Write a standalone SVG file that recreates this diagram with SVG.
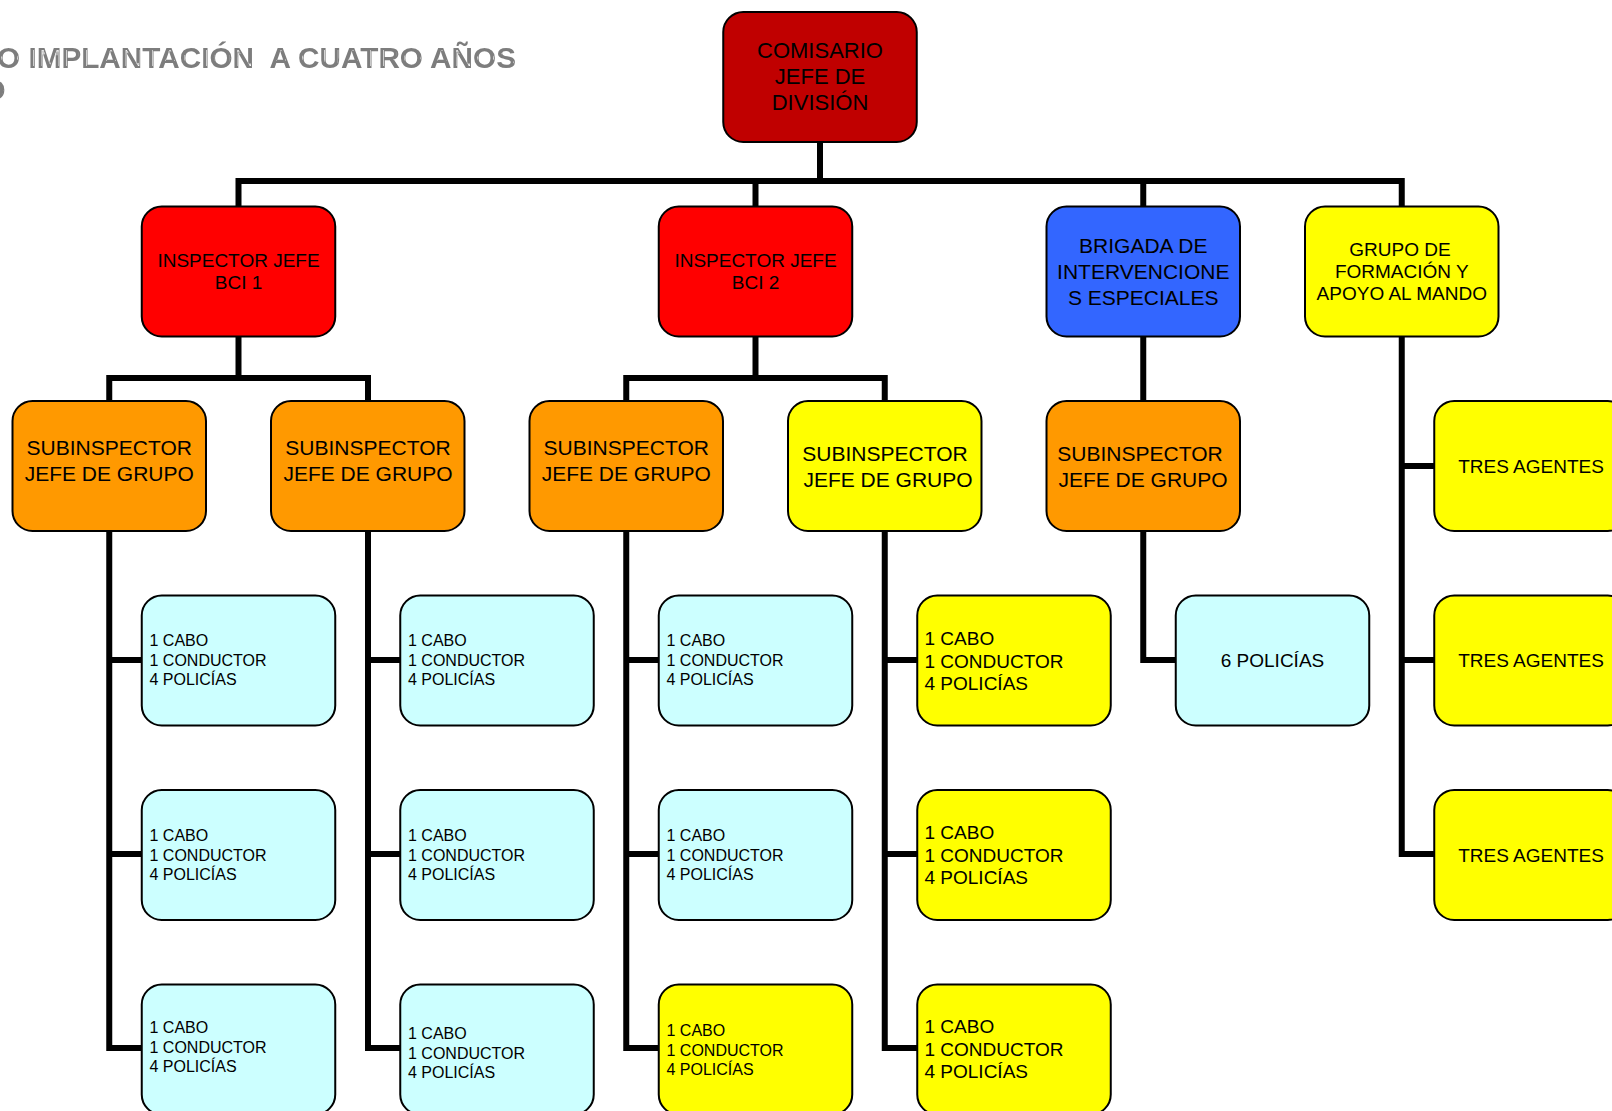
<svg xmlns="http://www.w3.org/2000/svg" width="1612" height="1111" viewBox="0 0 1612 1111">
<style>
.box{stroke:#000;stroke-width:2;}
.dred{fill:#C00000}.red{fill:#FF0000}.blue{fill:#3366FF}.yel{fill:#FFFF00}.org{fill:#FF9900}.cyan{fill:#CCFFFF}
text{font-family:"Liberation Sans",Arial,sans-serif;fill:#000;}
.c{text-anchor:middle}
.f22{font-size:22px}.f21{font-size:21px}.f19{font-size:19px}.f16{font-size:16px}
.title{font-size:29px;font-weight:bold;fill:#7d7d7d;filter:url(#emboss)}
.conn path{fill:none;stroke:#000;stroke-width:6;stroke-linejoin:miter}
</style>
<defs>
<rect id="b" width="193.5" height="130" rx="20" ry="20"/>
<filter id="emboss" x="-5%" y="-20%" width="110%" height="140%">
<feMorphology in="SourceAlpha" operator="erode" radius="1.6" result="er"/>
<feOffset in="er" dx="1" dy="-0.5" result="off"/>
<feFlood flood-color="#ffffff" result="w"/>
<feComposite in="w" in2="off" operator="in" result="hl"/>
<feMerge><feMergeNode in="SourceGraphic"/><feMergeNode in="hl"/></feMerge>
</filter>
</defs>
<rect width="1612" height="1111" fill="#fff"/>
<g id="title">
<text class="title" x="-3" y="68" xml:space="preserve" textLength="519" lengthAdjust="spacingAndGlyphs">O IMPLANTACIÓN  A CUATRO AÑOS</text>
<text class="title" x="-17" y="100">O</text>
</g>
<g id="connectors" class="conn">
<path d="M820 142 V181"/>
<path d="M238.5 206.5 V181 H1401.75 V206.5"/>
<path d="M755.5 181 V206.5"/>
<path d="M1143.25 181 V206.5"/>
<path d="M238.5 336.5 V378"/>
<path d="M109.25 401 V378 H368 V401"/>
<path d="M755.5 336.5 V378"/>
<path d="M626.25 401 V378 H884.75 V401"/>
<path d="M1143.25 336.5 V401"/>
<path d="M1401.75 336.5 V854 H1434.25"/>
<path d="M1401.75 466 H1434.25"/>
<path d="M1401.75 660 H1434.25"/>
<path d="M109.25 531 V1048 H141.75"/>
<path d="M109.25 660 H141.75"/>
<path d="M109.25 854 H141.75"/>
<path d="M368 531 V1048 H400.25"/>
<path d="M368 660 H400.25"/>
<path d="M368 854 H400.25"/>
<path d="M626.25 531 V1048 H658.75"/>
<path d="M626.25 660 H658.75"/>
<path d="M626.25 854 H658.75"/>
<path d="M884.75 531 V1048 H917.25"/>
<path d="M884.75 660 H917.25"/>
<path d="M884.75 854 H917.25"/>
<path d="M1143.25 531 V660 H1175.75"/>
</g>
<g id="comisario"><use href="#b" x="723.25" y="12" class="box dred"/>
<text class="c f22" x="820" y="58">COMISARIO</text><text class="c f22" x="820" y="84">JEFE DE</text><text class="c f22" x="820" y="110">DIVISIÓN</text></g>
<g id="bci1"><use href="#b" x="141.75" y="206.5" class="box red"/>
<text class="c f19" x="238.5" y="267">INSPECTOR JEFE</text><text class="c f19" x="238.5" y="289">BCI 1</text></g>
<g id="bci2"><use href="#b" x="658.75" y="206.5" class="box red"/>
<text class="c f19" x="755.5" y="267">INSPECTOR JEFE</text><text class="c f19" x="755.5" y="289">BCI 2</text></g>
<g id="brigada"><use href="#b" x="1046.5" y="206.5" class="box blue"/>
<text class="c f21" x="1143.25" y="253">BRIGADA DE</text><text class="c f21" x="1143.25" y="279">INTERVENCIONE</text><text class="c f21" x="1143.25" y="305">S ESPECIALES</text></g>
<g id="grupo"><use href="#b" x="1305" y="206.5" class="box yel"/>
<text class="c f19" x="1400" y="256">GRUPO DE</text><text class="c f19" x="1401.75" y="278">FORMACIÓN Y</text><text class="c f19" x="1401.75" y="300">APOYO AL MANDO</text></g>
<g id="sub1"><use href="#b" x="12.5" y="401" class="box org"/>
<text class="c f21" x="109.25" y="455">SUBINSPECTOR</text><text class="c f21" x="109.25" y="481">JEFE DE GRUPO</text></g>
<g id="sub2"><use href="#b" x="271" y="401" class="box org"/>
<text class="c f21" x="368" y="455">SUBINSPECTOR</text><text class="c f21" x="368" y="481">JEFE DE GRUPO</text></g>
<g id="sub3"><use href="#b" x="529.5" y="401" class="box org"/>
<text class="c f21" x="626.25" y="455">SUBINSPECTOR</text><text class="c f21" x="626.25" y="481">JEFE DE GRUPO</text></g>
<g id="sub4"><use href="#b" x="788" y="401" class="box yel"/>
<text class="c f21" x="885" y="461">SUBINSPECTOR</text><text class="c f21" x="888" y="487">JEFE DE GRUPO</text></g>
<g id="sub5"><use href="#b" x="1046.5" y="401" class="box org"/>
<text class="c f21" x="1140" y="461">SUBINSPECTOR</text><text class="c f21" x="1143" y="487">JEFE DE GRUPO</text></g>
<g id="tres1"><use href="#b" x="1434.25" y="401" class="box yel"/>
<text class="c f19" x="1531" y="472.5">TRES AGENTES</text></g>
<g id="tres2"><use href="#b" x="1434.25" y="595.5" class="box yel"/>
<text class="c f19" x="1531" y="667">TRES AGENTES</text></g>
<g id="tres3"><use href="#b" x="1434.25" y="790" class="box yel"/>
<text class="c f19" x="1531" y="861.5">TRES AGENTES</text></g>
<g id="policias6"><use href="#b" x="1175.75" y="595.5" class="box cyan"/>
<text class="c f19" x="1272.5" y="667">6 POLICÍAS</text></g>
<g id="g1a"><use href="#b" x="141.75" y="595.5" class="box cyan"/>
<text class="f16" x="149.5" y="646">1 CABO</text><text class="f16" x="149.5" y="665.5">1 CONDUCTOR</text><text class="f16" x="149.5" y="685">4 POLICÍAS</text></g>
<g id="g1b"><use href="#b" x="141.75" y="790" class="box cyan"/>
<text class="f16" x="149.5" y="841">1 CABO</text><text class="f16" x="149.5" y="860.5">1 CONDUCTOR</text><text class="f16" x="149.5" y="880">4 POLICÍAS</text></g>
<g id="g1c"><use href="#b" x="141.75" y="984.5" class="box cyan"/>
<text class="f16" x="149.5" y="1033">1 CABO</text><text class="f16" x="149.5" y="1052.5">1 CONDUCTOR</text><text class="f16" x="149.5" y="1072">4 POLICÍAS</text></g>
<g id="g2a"><use href="#b" x="400.25" y="595.5" class="box cyan"/>
<text class="f16" x="408" y="646">1 CABO</text><text class="f16" x="408" y="665.5">1 CONDUCTOR</text><text class="f16" x="408" y="685">4 POLICÍAS</text></g>
<g id="g2b"><use href="#b" x="400.25" y="790" class="box cyan"/>
<text class="f16" x="408" y="841">1 CABO</text><text class="f16" x="408" y="860.5">1 CONDUCTOR</text><text class="f16" x="408" y="880">4 POLICÍAS</text></g>
<g id="g2c"><use href="#b" x="400.25" y="984.5" class="box cyan"/>
<text class="f16" x="408" y="1039">1 CABO</text><text class="f16" x="408" y="1058.5">1 CONDUCTOR</text><text class="f16" x="408" y="1078">4 POLICÍAS</text></g>
<g id="g3a"><use href="#b" x="658.75" y="595.5" class="box cyan"/>
<text class="f16" x="666.5" y="646">1 CABO</text><text class="f16" x="666.5" y="665.5">1 CONDUCTOR</text><text class="f16" x="666.5" y="685">4 POLICÍAS</text></g>
<g id="g3b"><use href="#b" x="658.75" y="790" class="box cyan"/>
<text class="f16" x="666.5" y="841">1 CABO</text><text class="f16" x="666.5" y="860.5">1 CONDUCTOR</text><text class="f16" x="666.5" y="880">4 POLICÍAS</text></g>
<g id="g3c"><use href="#b" x="658.75" y="984.5" class="box yel"/>
<text class="f16" x="666.5" y="1036">1 CABO</text><text class="f16" x="666.5" y="1055.5">1 CONDUCTOR</text><text class="f16" x="666.5" y="1075">4 POLICÍAS</text></g>
<g id="g4a"><use href="#b" x="917.25" y="595.5" class="box yel"/>
<text class="f19" x="924.5" y="645">1 CABO</text><text class="f19" x="924.5" y="667.5">1 CONDUCTOR</text><text class="f19" x="924.5" y="690">4 POLICÍAS</text></g>
<g id="g4b"><use href="#b" x="917.25" y="790" class="box yel"/>
<text class="f19" x="924.5" y="839">1 CABO</text><text class="f19" x="924.5" y="861.5">1 CONDUCTOR</text><text class="f19" x="924.5" y="884">4 POLICÍAS</text></g>
<g id="g4c"><use href="#b" x="917.25" y="984.5" class="box yel"/>
<text class="f19" x="924.5" y="1033">1 CABO</text><text class="f19" x="924.5" y="1055.5">1 CONDUCTOR</text><text class="f19" x="924.5" y="1078">4 POLICÍAS</text></g>
</svg>
